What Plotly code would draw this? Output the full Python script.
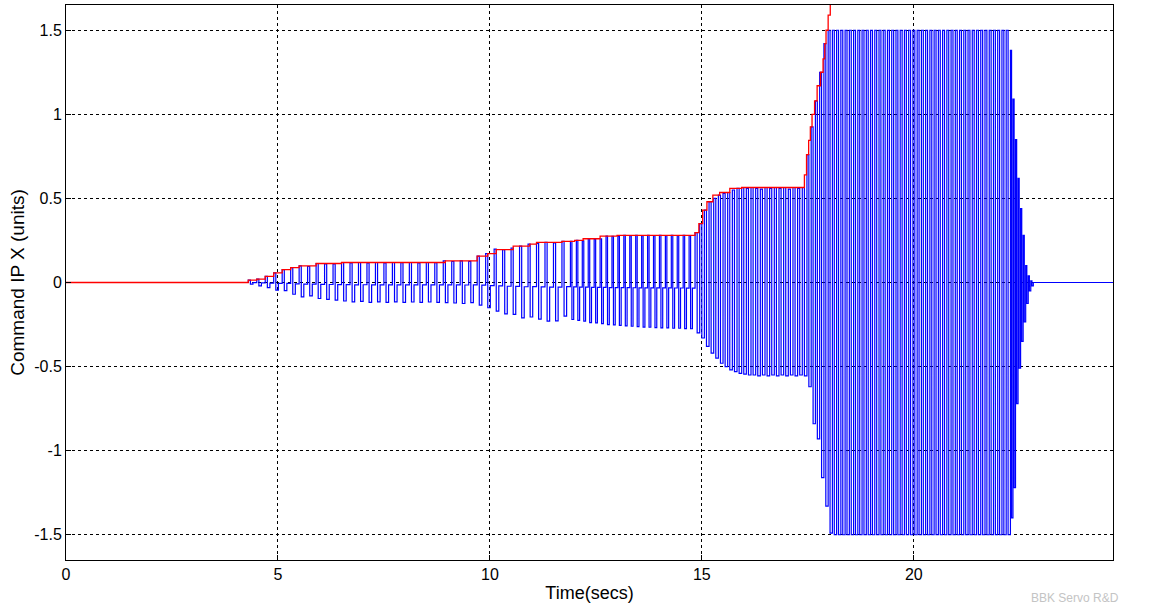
import plotly.graph_objects as go

# --- Command IP X: cycles listed per segment (start time, period, peak values) ---
seg_start = [4.30, 10.30, 11.90, 14.84, 17.48, 17.98, 22.28]
seg_period = [0.20, 0.20, 0.14, 0.11, 0.10, 0.10, 0.06]

seg_hi = [
    # 4.3 - 10.1 s
    [0.014, 0.020, 0.037, 0.057, 0.077, 0.089, 0.099, 0.095, 0.113, 0.110,
     0.110, 0.119, 0.117, 0.119, 0.116, 0.119, 0.117, 0.119, 0.118, 0.119,
     0.117, 0.119, 0.118, 0.129, 0.125, 0.128, 0.126, 0.157, 0.172, 0.198],
    # 10.3 - 11.7 s
    [0.196, 0.205, 0.216, 0.228, 0.232, 0.238, 0.236, 0.244],
    # 11.9 - 14.7 s
    [0.244, 0.250, 0.248, 0.260, 0.258, 0.260, 0.276, 0.274, 0.276, 0.280,
     0.278, 0.280, 0.278, 0.280, 0.279, 0.280, 0.278, 0.280, 0.279, 0.280, 0.278],
    # 14.84 - 17.37 s
    [0.296, 0.350, 0.430, 0.480, 0.500, 0.520, 0.530, 0.535, 0.550, 0.560,
     0.565, 0.560, 0.565, 0.560, 0.555, 0.565, 0.560, 0.565, 0.560, 0.565,
     0.555, 0.565, 0.560, 0.565],
    # 17.48 - 17.88 s
    [0.760, 0.925, 1.080, 1.250, 1.420],
    # 17.98 - 22.18 s (saturated)
    [1.5] * 43,
    # 22.28 - 22.76 s (decay)
    [1.38, 1.09, 0.85, 0.62, 0.44, 0.28, 0.10, 0.04, 0.01],
]

seg_lo = [
    [-0.010, -0.020, -0.030, -0.045, -0.048, -0.070, -0.085, -0.080, -0.095, -0.100,
     -0.105, -0.110, -0.115, -0.112, -0.118, -0.115, -0.118, -0.115, -0.118, -0.116,
     -0.118, -0.116, -0.118, -0.120, -0.122, -0.125, -0.120, -0.135, -0.150, -0.170],
    [-0.186, -0.190, -0.210, -0.205, -0.218, -0.230, -0.228, -0.200],
    [-0.220, -0.225, -0.230, -0.238, -0.240, -0.245, -0.250, -0.252, -0.255, -0.258,
     -0.260, -0.262, -0.265, -0.266, -0.268, -0.270, -0.270, -0.272, -0.272, -0.274, -0.275],
    [-0.300, -0.330, -0.380, -0.420, -0.450, -0.480, -0.500, -0.520, -0.530, -0.540,
     -0.545, -0.550, -0.550, -0.555, -0.550, -0.555, -0.550, -0.555, -0.550, -0.555,
     -0.550, -0.555, -0.550, -0.555],
    [-0.62, -0.84, -0.93, -1.16, -1.33],
    [-1.49] + [-1.5] * 42,
    [-1.40, -1.22, -0.72, -0.51, -0.35, -0.235, -0.125, -0.05, -0.02],
]

# --- red staircase (peak of command) ---
red_t = [0, 4.30, 4.50, 4.70, 4.90, 5.10, 5.30, 5.50, 5.90, 6.50,
         8.95, 9.70, 9.95, 10.15, 10.55, 10.94, 11.10, 11.70, 12.00, 12.20,
         12.60, 13.00, 14.84, 14.93, 15.02, 15.12, 15.26, 15.42, 15.66, 15.94,
         17.42, 17.47, 17.52, 17.56, 17.60, 17.66, 17.72, 17.80, 17.86, 17.90,
         17.93, 17.98, 18.03]
red_v = [0, 0.014, 0.020, 0.037, 0.057, 0.077, 0.089, 0.099, 0.113, 0.119,
         0.129, 0.157, 0.172, 0.196, 0.216, 0.228, 0.238, 0.244, 0.250, 0.260,
         0.276, 0.280, 0.296, 0.350, 0.430, 0.480, 0.520, 0.535, 0.560, 0.565,
         0.640, 0.760, 0.845, 0.925, 1.000, 1.080, 1.170, 1.250, 1.330, 1.420,
         1.500, 1.590, 1.900]

t_end = 24.7
y_ticks = [-1.5, -1, -0.5, 0, 0.5, 1, 1.5]
y_labels = ['-1.5', '-1', '-0.5', '0', '0.5', '1', '1.5']
x_ticks = [0, 5, 10, 15, 20]

# drawing style of one cycle, as (fraction of period, level) pairs where
# level 1 = upper peak, -1 = lower peak; slow cycles dwell near zero
slow_cycle = [(0.25, 1.0), (0.30, -1.0), (0.45, -0.12)]
fast_cycle = [(0.45, 1.0), (0.55, -1.0)]

bx, by = [0, seg_start[0]], [0, 0]
for t0, per, his, los in zip(seg_start, seg_period, seg_hi, seg_lo):
    shape = slow_cycle if per >= 0.14 else fast_cycle
    for k, (hi, lo) in enumerate(zip(his, los)):
        t = t0 + k * per
        for frac, s in shape:
            v = hi if s == 1.0 else (lo if s == -1.0 else -s * lo)
            bx += [t, t, t + frac * per]
            by += [by[-1], v, v]
            t += frac * per
last = seg_start[-1] + len(seg_hi[-1]) * seg_period[-1]
bx += [last, last, t_end]
by += [by[-1], 0, 0]

fig = go.Figure()
fig.add_trace(go.Scatter(x=bx, y=by, mode='lines',
                         line=dict(color='#0000ff', width=1.2), hoverinfo='skip'))
fig.add_trace(go.Scatter(x=red_t, y=red_v, mode='lines',
                         line=dict(color='#ff0000', width=1.3, shape='hv'),
                         hoverinfo='skip'))

axis_style = dict(
    showline=True, mirror=True, linecolor='black', linewidth=1,
    showgrid=True, gridcolor='black', gridwidth=1, griddash='dot',
    zeroline=False, ticks='inside', ticklen=5, tickcolor='black',
    tickfont=dict(size=16, color='black'),
)

fig.update_xaxes(range=[0, t_end], tickvals=x_ticks,
                 title=dict(text='Time(secs)', font=dict(size=18), standoff=4),
                 **axis_style)
fig.update_yaxes(range=[-1.65, 1.65], tickvals=y_ticks, ticktext=y_labels,
                 title=dict(text='Command IP X (units)', font=dict(size=19), standoff=4),
                 **axis_style)

fig.add_annotation(text='BBK Servo R&D', xref='paper', yref='paper',
                   x=0.964, y=-0.068, xanchor='center', yanchor='middle',
                   showarrow=False, font=dict(size=12, color='#c4c4c4'))

fig.update_layout(
    width=1162, height=616,
    margin=dict(l=66, r=49, t=5, b=56),
    plot_bgcolor='white', paper_bgcolor='white',
    showlegend=False,
    font=dict(family='Liberation Sans, Arial, sans-serif', color='black'),
)

fig.write_html("out.html", config={'displayModeBar': False},
               post_script="document.body.style.margin='0';")
